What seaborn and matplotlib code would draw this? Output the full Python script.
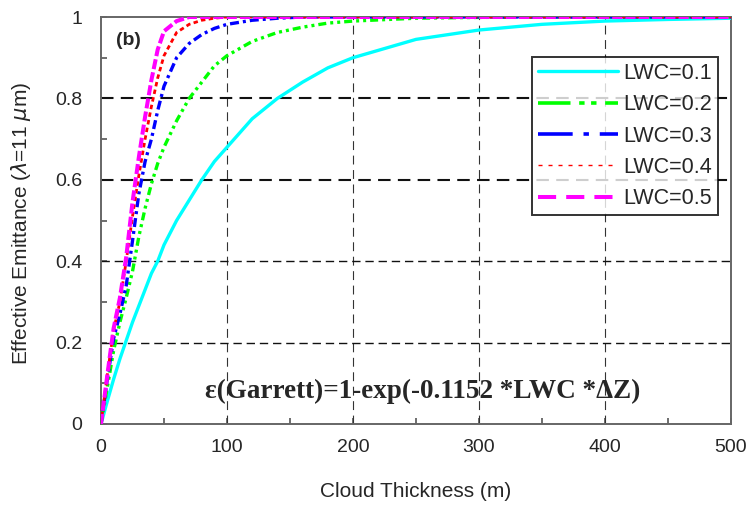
import numpy as np
import pandas as pd
import matplotlib
matplotlib.use("Agg")
import matplotlib.pyplot as plt
import seaborn as sns

# ---- data ----
thickness = [0, 5, 10, 15, 20, 25, 30, 35, 40, 45, 50, 60, 70, 80, 90, 100,
             120, 140, 160, 180, 200, 250, 300, 350, 400, 450, 500]
lwc_01 = [0, 0.056, 0.11, 0.16, 0.205, 0.25, 0.29, 0.33, 0.37, 0.40, 0.44, 0.50,
          0.55, 0.60, 0.645, 0.68, 0.75, 0.80, 0.84, 0.875, 0.90, 0.945, 0.968,
          0.982, 0.99, 0.994, 0.997]
lwc_02 = [0, 0.09, 0.18, 0.25, 0.31, 0.375, 0.46, 0.53, 0.59, 0.64, 0.68, 0.745,
          0.80, 0.84, 0.88, 0.905, 0.94, 0.962, 0.975, 0.985, 0.99, 0.997, 0.999,
          1.0, 1.0, 1.0, 1.0]
lwc_03 = [0, 0.11, 0.21, 0.27, 0.34, 0.45, 0.565, 0.645, 0.70, 0.77, 0.83, 0.90,
          0.935, 0.957, 0.972, 0.982, 0.992, 0.997, 1.0, 1.0, 1.0, 1.0, 1.0,
          1.0, 1.0, 1.0, 1.0]
lwc_04 = [0, 0.12, 0.23, 0.30, 0.40, 0.51, 0.61, 0.70, 0.78, 0.85, 0.905, 0.962,
          0.982, 0.992, 0.997, 1.0, 1.0, 1.0, 1.0, 1.0, 1.0, 1.0, 1.0,
          1.0, 1.0, 1.0, 1.0]
lwc_05 = [0, 0.12, 0.235, 0.31, 0.41, 0.545, 0.655, 0.755, 0.845, 0.92, 0.965, 0.99,
          1.0, 1.0, 1.0, 1.0, 1.0, 1.0, 1.0, 1.0, 1.0, 1.0, 1.0,
          1.0, 1.0, 1.0, 1.0]
series_labels = ["LWC=0.1", "LWC=0.2", "LWC=0.3", "LWC=0.4", "LWC=0.5"]
series_values = [lwc_01, lwc_02, lwc_03, lwc_04, lwc_05]
x_ticks = [0, 100, 200, 300, 400, 500]
y_ticks = [0, 0.2, 0.4, 0.6, 0.8, 1]
y_tick_labels = ["0", "0.2", "0.4", "0.6", "0.8", "1"]

# ---- styles ----
colors = ["#00FFFF", "#00FF00", "#0000FF", "#FF0000", "#FF00FF"]
widths = [2.4, 2.4, 2.4, 2.0, 2.9]
plot_styles = ["-", (0, (2.4, 1.2, 0.9, 1.2, 0.9, 1.2)), (0, (2.7, 1.2, 0.9, 1.2)),
               (0, (1.6, 1.2)), (0, (2.5, 0.8))]
legend_styles = ["-", (0, (9, 2.4, 1.5, 1.8, 1.5, 2.4)), (0, (9.6, 3, 1.5, 3)),
                 (0, (2.9, 4.3)), (0, (4.5, 2.5))]
legend_widths = [2.4, 2.6, 2.6, 1.0, 2.9]

sns.set_style("white")
plt.rcParams["font.family"] = ["Liberation Sans", "DejaVu Sans"]

fig = plt.figure(figsize=(7.53, 5.07), dpi=100)
ax = fig.add_axes([101 / 753, 1 - 424 / 507, 630 / 753, 407 / 507])

frames = []
for lab, vals in zip(series_labels, series_values):
    frames.append(pd.DataFrame({"thickness": thickness, "emit": vals, "series": lab}))
df = pd.concat(frames, ignore_index=True)

for lab, col, lw, ls in zip(series_labels, colors, widths, plot_styles):
    sns.lineplot(data=df[df["series"] == lab], x="thickness", y="emit", ax=ax,
                 color=col, linewidth=lw, linestyle=ls, label=lab, zorder=3)

ax.set_xlim(0, 500)
ax.set_ylim(0, 1)
ax.set_xticks(x_ticks)
ax.set_yticks(y_ticks)
ax.set_yticklabels(y_tick_labels)
ax.set_xticks([50, 150, 250, 350, 450], minor=True)
ax.set_yticks([0.1, 0.3, 0.5, 0.7, 0.9], minor=True)
ax.tick_params(axis="both", which="both", direction="in", length=4, width=1.2,
               color="#555555")
ax.tick_params(axis="x", which="major", labelsize=14, pad=11)
ax.tick_params(axis="y", which="major", labelsize=14, pad=13.5)
ax.tick_params(left=True, bottom=True, which="both")

for sp in ax.spines.values():
    sp.set_color("#666666")
    sp.set_linewidth(1.4)

# grid lines
for xv in x_ticks[1:-1]:
    ax.axvline(xv, color="#333333", lw=0.8, linestyle=(0, (8, 5)), zorder=1)
for yv in y_ticks[1:-1]:
    lw = 1.5 if yv >= 0.6 else 1.0
    ax.axhline(yv, color="#111111", lw=lw, linestyle=(0, (6, 3.5)), zorder=1)

ax.set_xlabel("Cloud Thickness (m)", fontsize=15)
ax.xaxis.set_label_coords(0.5, -0.143)
ax.set_ylabel(r"Effective Emittance ($\lambda$=11 $\mu$m)", fontsize=15)
ax.yaxis.set_label_coords(-0.108, 0.493)

ax.text(0.044, 0.943, "(b)", transform=ax.transAxes, fontsize=14,
        fontweight="bold", ha="center", va="center")
ax.text(0.51, 0.079, "\u03b5(Garrett)=1-exp(-0.1152 *LWC *\u0394Z)",
        transform=ax.transAxes, fontsize=19.5, fontweight="bold",
        family=["Liberation Serif", "DejaVu Serif"], ha="center", va="center")

leg = ax.legend(loc="upper right", bbox_to_anchor=(0.979, 0.902), fontsize=15.5,
                frameon=True, fancybox=False, shadow=False, borderpad=0.28,
                labelspacing=0.48, handlelength=3.7, handletextpad=0.25,
                borderaxespad=0)
leg.get_frame().set_edgecolor("black")
leg.get_frame().set_linewidth(1.4)
for line, ls, lw in zip(leg.get_lines(), legend_styles, legend_widths):
    line.set_linestyle(ls)
    line.set_linewidth(lw)

fig.savefig("out.png", dpi=100)
